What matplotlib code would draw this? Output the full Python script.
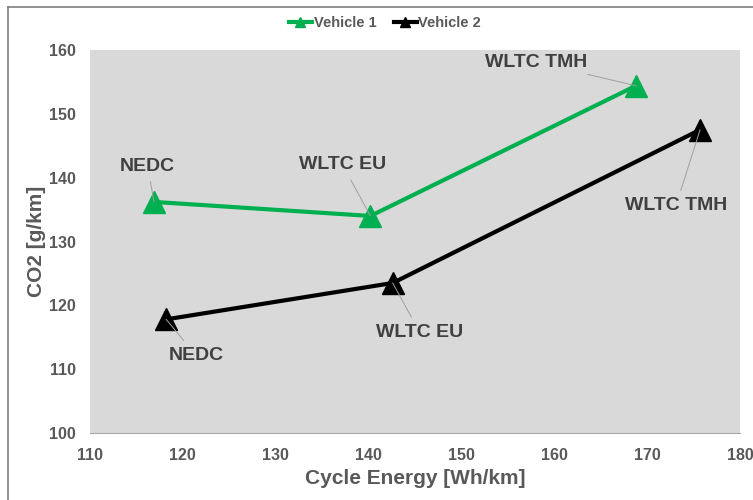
import matplotlib
matplotlib.use("Agg")
import matplotlib.pyplot as plt
from matplotlib.lines import Line2D

plt.rcParams['font.family'] = ['Liberation Sans', 'DejaVu Sans']
plt.rcParams['font.weight'] = 'bold'

# data
cycles = ["NEDC", "WLTC EU", "WLTC TMH"]
v1_energy = [116.9, 140.2, 168.8]
v1_co2 = [136.2, 134.0, 154.4]
v2_energy = [118.2, 142.6, 175.7]
v2_co2 = [117.8, 123.5, 147.5]

# where the data labels sit (data coords)
v1_label_pos = [(116.2, 141.8), (137.2, 142.0), (158.0, 158.1)]
v2_label_pos = [(121.4, 112.2), (145.5, 115.8), (173.1, 135.6)]

green = "#00B050"
txt_grey = "#595959"
lab_grey = "#404040"

fig = plt.figure(figsize=(7.53, 5.0), dpi=100)
ax = fig.add_axes([90/753, 67/500, 650/753, 383/500])
ax.set_facecolor("#D9D9D9")

ax.plot(v1_energy, v1_co2, color=green, lw=3, marker="^", ms=16,
        label="Vehicle 1", zorder=3)
ax.plot(v2_energy, v2_co2, color="black", lw=3, marker="^", ms=16,
        label="Vehicle 2", zorder=3)

def put_labels(xs, ys, pos):
    for name, x, y, (tx, ty) in zip(cycles, xs, ys, pos):
        ax.annotate(name, xy=(x, y), xytext=(tx, ty), ha="center", va="center",
                    fontsize=14, fontweight="bold", color=lab_grey,
                    arrowprops=dict(arrowstyle="-", color="#A0A0A0", lw=0.7,
                                    shrinkA=3, shrinkB=0), zorder=4)

put_labels(v1_energy, v1_co2, v1_label_pos)
put_labels(v2_energy, v2_co2, v2_label_pos)

ax.set_xlim(110, 180)
ax.set_ylim(100, 160)
ax.set_xticks(range(110, 181, 10))
ax.set_yticks(range(100, 161, 10))
ax.tick_params(length=0, labelsize=11.5, labelcolor=txt_grey)
ax.tick_params(axis="x", pad=11)
ax.tick_params(axis="y", pad=10)
for t in ax.get_xticklabels() + ax.get_yticklabels():
    t.set_fontweight("bold")
for s in ["left", "right", "top"]:
    ax.spines[s].set_visible(False)
ax.spines["bottom"].set_color("#A6A6A6")

ax.set_xlabel("Cycle Energy [Wh/km]", fontsize=15, fontweight="bold",
              color=txt_grey, labelpad=4)
ax.set_ylabel("CO2 [g/km]", fontsize=15, fontweight="bold",
              color=txt_grey, labelpad=2)

handles = [Line2D([], [], color=green, lw=3, marker="^", ms=7),
           Line2D([], [], color="black", lw=3, marker="^", ms=7)]
fig.legend(handles, ["Vehicle 1", "Vehicle 2"], loc="center",
           bbox_to_anchor=(385/753, 1 - 23/500), ncol=2, frameon=False,
           handlelength=1.6, handletextpad=0.1, columnspacing=1.2,
           prop=dict(size=10.5, weight="bold"), labelcolor=txt_grey)

# chart border (cropped at right/bottom in the original)
fig.add_artist(Line2D([8/753, 8/753], [0, 1 - 7/500], color="#7F7F7F", lw=1.2,
                      transform=fig.transFigure))
fig.add_artist(Line2D([8/753, 1], [1 - 7/500, 1 - 7/500], color="#7F7F7F", lw=1.2,
                      transform=fig.transFigure))

fig.savefig("out.png", dpi=100)
